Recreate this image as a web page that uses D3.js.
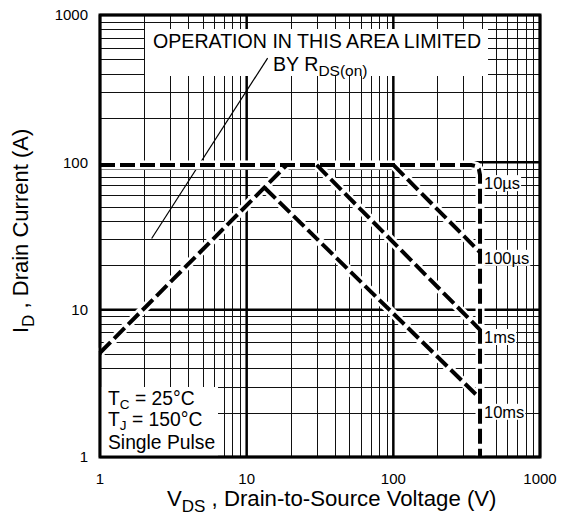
<!DOCTYPE html>
<html>
<head>
<meta charset="utf-8">
<script src="https://cdn.jsdelivr.net/npm/d3@7.9.0/dist/d3.min.js"></script>
<style>
  html, body { margin: 0; padding: 0; background: #fff; }
  svg { display: block; font-family: "Liberation Sans", Arial, sans-serif; }
</style>
</head>
<body>
<svg id="chart" width="568" height="520"></svg>
<script>
// axis ticks
const xTickLabels = [1, 10, 100, 1000];
const yTickLabels = [1, 10, 100, 1000];

// RDS(on) limit (dashed diagonal)
const rdsV = [1, 18.8];
const rdsI = [5.1, 96];

// 10us curve: flat, rounded corner, then vertical BVDSS limit
const us10V = [1, 340, 368, 383, 390, 390];
const us10I = [96, 96, 94, 90, 82, 1];

// 100us, 1ms, 10ms lines
const us100V = [100, 390];
const us100I = [96, 24.5];
const ms1V = [30, 390];
const ms1I = [96, 7.3];
const ms10V = [13.3, 390];
const ms10I = [67, 2.5];

// curve labels
const curveLabels = ['10\u00b5s', '100\u00b5s', '1ms', '10ms'];
const labelV = 415;
const labelI = [72, 22.4, 6.5, 2.02];

// pointer line to the "limited by RDS(on)" note
const pointerV = [2.25, 13.9];
const pointerI = [30.4, 510];

const svg = d3.select('#chart');
const pl = 100, pr = 540, pt = 15, pb = 457;

const x = d3.scaleLog().domain([1, 1000]).range([pl, pr]);
const y = d3.scaleLog().domain([1, 1000]).range([pb, pt]);

const snap = v => Math.round(v) + 0.5;

// grid
const xt = x.ticks();
const yt = y.ticks();
const isMajor = v => Math.abs(Math.log10(v) - Math.round(Math.log10(v))) < 1e-9;

let grid = svg.append('g');
xt.filter(v => !isMajor(v)).forEach(v => {
    grid.append('line')
        .attr('x1', snap(x(v))).attr('x2', snap(x(v)))
        .attr('y1', pt).attr('y2', pb)
        .attr('stroke', '#111').attr('stroke-width', 1);
});
yt.filter(v => !isMajor(v)).forEach(v => {
    grid.append('line')
        .attr('y1', snap(y(v))).attr('y2', snap(y(v)))
        .attr('x1', pl).attr('x2', pr)
        .attr('stroke', '#111').attr('stroke-width', 1);
});
xt.filter(v => isMajor(v)).forEach(v => {
    grid.append('line')
        .attr('x1', x(v)).attr('x2', x(v))
        .attr('y1', pt).attr('y2', pb)
        .attr('stroke', '#000').attr('stroke-width', 2.5);
});
yt.filter(v => isMajor(v)).forEach(v => {
    grid.append('line')
        .attr('y1', y(v)).attr('y2', y(v))
        .attr('x1', pl).attr('x2', pr)
        .attr('stroke', '#000').attr('stroke-width', 2.5);
});

// white boxes hiding the grid under the notes
svg.append('rect').attr('x', 145).attr('y', 29).attr('width', 343).attr('height', 47).attr('fill', '#fff');
svg.append('rect').attr('x', pl).attr('y', 387).attr('width', 118).attr('height', pb - 387).attr('fill', '#fff');

// pointer line
const line = d3.line().x(d => x(d[0])).y(d => y(d[1]));
svg.append('path')
    .attr('d', line(d3.zip(pointerV, pointerI)))
    .attr('fill', 'none').attr('stroke', '#000').attr('stroke-width', 1.2);

// SOA curves
const curves = [
    d3.zip(rdsV, rdsI),
    d3.zip(us10V, us10I),
    d3.zip(us100V, us100I),
    d3.zip(ms1V, ms1I),
    d3.zip(ms10V, ms10I)
];
curves.forEach(c => {
    svg.append('path').attr('d', line(c))
        .attr('fill', 'none').attr('stroke', '#fff').attr('stroke-width', 9)
        .attr('stroke-linejoin', 'round');
});
curves.forEach(c => {
    svg.append('path').attr('d', line(c))
        .attr('fill', 'none').attr('stroke', '#000').attr('stroke-width', 4)
        .attr('stroke-dasharray', '15,5');
});

// curve labels with white backing
curveLabels.forEach((t, i) => {
    let g = svg.append('g');
    let txt = g.append('text')
        .attr('x', x(labelV)).attr('y', y(labelI[i]))
        .attr('dy', '0.35em')
        .attr('font-size', 16.5)
        .text(t);
    let bb = txt.node().getBBox();
    g.insert('rect', 'text')
        .attr('x', bb.x - 1).attr('y', bb.y + 1)
        .attr('width', bb.width + 2).attr('height', bb.height - 2)
        .attr('fill', '#fff');
});

// frame
svg.append('rect')
    .attr('x', pl).attr('y', pt)
    .attr('width', pr - pl).attr('height', pb - pt)
    .attr('fill', 'none').attr('stroke', '#000').attr('stroke-width', 3);

// tick labels
xTickLabels.forEach(v => {
    svg.append('text').attr('x', x(v)).attr('y', 484)
        .attr('text-anchor', 'middle').attr('font-size', 15).text(v);
});
yTickLabels.forEach(v => {
    svg.append('text').attr('x', 88).attr('y', y(v))
        .attr('dy', '0.35em')
        .attr('text-anchor', 'end').attr('font-size', 15).text(v);
});

// note at the top
svg.append('text').attr('x', 153).attr('y', 48)
    .attr('font-size', 19.6).text('OPERATION IN THIS AREA LIMITED');
let by = svg.append('text').attr('x', 273).attr('y', 71).attr('font-size', 19.6);
by.append('tspan').text('BY R');
by.append('tspan').attr('font-size', 15.5).attr('dy', 5).text('DS(on)');

// conditions
const cond = [['T', 'C', ' = 25\u00b0C', 405], ['T', 'J', ' = 150\u00b0C', 426]];
cond.forEach(([a, sub, b, yy]) => {
    let t = svg.append('text').attr('x', 108).attr('y', yy).attr('font-size', 19.3);
    t.append('tspan').text(a);
    t.append('tspan').attr('font-size', 13.5).attr('dy', 3.5).text(sub);
    t.append('tspan').attr('dy', -3.5).text(b);
});
svg.append('text').attr('x', 108).attr('y', 449).attr('font-size', 19.3).text('Single Pulse');

// axis titles
let xt2 = svg.append('text').attr('x', 167).attr('y', 506).attr('font-size', 22.2);
xt2.append('tspan').text('V');
xt2.append('tspan').attr('font-size', 17).attr('dy', 6).text('DS');
xt2.append('tspan').attr('dy', -6).text(' , Drain-to-Source Voltage (V)');

let yt2 = svg.append('text').attr('transform', 'translate(28,333) rotate(-90)').attr('font-size', 22);
yt2.append('tspan').text('I');
yt2.append('tspan').attr('font-size', 17).attr('dy', 6).text('D');
yt2.append('tspan').attr('dy', -6).text(' , Drain Current (A)');
</script>
</body>
</html>
